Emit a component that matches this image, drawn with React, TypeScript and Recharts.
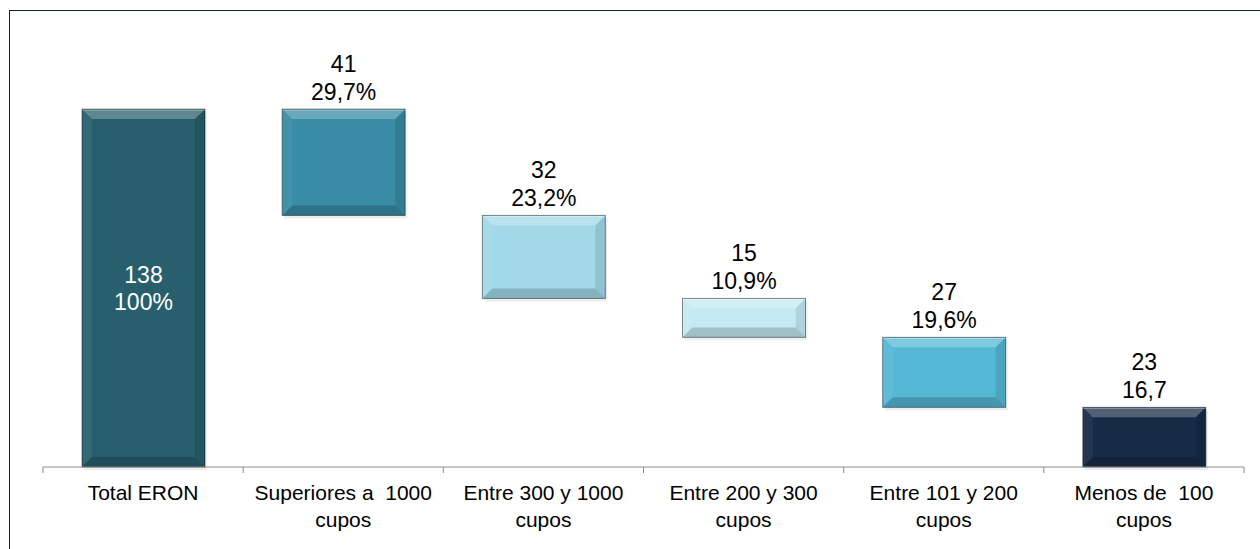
import { BarChart, Bar, XAxis, YAxis, Cell, LabelList } from 'recharts'

const categories = [
  'Total ERON',
  'Superiores a  1000\ncupos',
  'Entre 300 y 1000\ncupos',
  'Entre 200 y 300\ncupos',
  'Entre 101 y 200\ncupos',
  'Menos de  100\ncupos',
]
const values = [138, 41, 32, 15, 27, 23]
const shareLabels = ['100%', '29,7%', '23,2%', '10,9%', '19,6%', '16,7']
const colors = ['#285F6D', '#398CA5', '#A2D9E9', '#C4EAF3', '#55B8D5', '#172B47']
const boundaryTicks = [0, 1, 2, 3, 4, 5, 6]

// waterfall: each step hangs from what is left of the total
const data = categories.map((name, i) => {
  const used = values.slice(1, i + 1).reduce((a, b) => a + b, 0)
  return {
    name,
    idx: i + 0.5,
    base: i === 0 ? 0 : values[0] - used,
    value: values[i],
    share: shareLabels[i],
  }
})

const FONT = 'Liberation Sans, Arial, sans-serif'

function BevelBar(props: any) {
  const { x, y, width, height, fill } = props
  if (!height || height <= 0) return null
  const b = Math.min(10, height / 4, width / 4)
  const x2 = x + width
  const y2 = y + height
  return (
    <g>
      <rect x={x + 2} y={y + 3} width={width} height={height} fill="#000" opacity={0.07} />
      <rect x={x} y={y} width={width} height={height} fill={fill} />
      <polygon points={`${x},${y} ${x2},${y} ${x2 - b},${y + b} ${x + b},${y + b}`} fill="#fff" opacity={0.25} />
      <polygon points={`${x},${y} ${x + b},${y + b} ${x + b},${y2 - b} ${x},${y2}`} fill="#fff" opacity={0.06} />
      <polygon points={`${x2},${y} ${x2},${y2} ${x2 - b},${y2 - b} ${x2 - b},${y + b}`} fill="#000" opacity={0.1} />
      <polygon points={`${x},${y2} ${x + b},${y2 - b} ${x2 - b},${y2 - b} ${x2},${y2}`} fill="#000" opacity={0.18} />
      <line x1={x} y1={y + 1} x2={x2} y2={y + 1} stroke="#fff" strokeOpacity={0.35} />
      <rect x={x} y={y} width={width} height={height} fill="none" stroke="#000" strokeOpacity={0.45} strokeWidth={1} />
    </g>
  )
}

function ValueLabel(props: any) {
  const { x, y, width, height, index } = props
  const d = data[index]
  const cx = x + width / 2
  if (index === 0) {
    const cy = y + height / 2
    return (
      <text x={cx} textAnchor="middle" fill="#fff" fontSize={23} fontFamily={FONT}>
        <tspan x={cx} y={cy - 5}>{d.value}</tspan>
        <tspan x={cx} y={cy + 22}>{d.share}</tspan>
      </text>
    )
  }
  return (
    <text x={cx} textAnchor="middle" fill="#000" fontSize={23} fontFamily={FONT}>
      <tspan x={cx} y={y - 37}>{d.value}</tspan>
      <tspan x={cx} y={y - 9}>{d.share}</tspan>
    </text>
  )
}

function CategoryTick(props: any) {
  const { x, y, payload } = props
  const lines = String(payload.value).split('\n')
  return (
    <text x={x} textAnchor="middle" fill="#000" fontSize={21} fontFamily={FONT} style={{ whiteSpace: 'pre' }}>
      {lines.map((l, i) => (
        <tspan key={i} x={x} y={y + 32 + i * 27}>{l}</tspan>
      ))}
    </text>
  )
}

export default function App() {
  return (
    <div style={{ position: 'absolute', left: 0, top: 0, width: 1260, height: 549, overflow: 'hidden', background: '#fff' }}>
      <div
        style={{
          position: 'absolute',
          left: 9,
          top: 10,
          width: 1260,
          height: 549,
          borderTop: '1px solid #0F2538',
          borderLeft: '1px solid #0F2538',
        }}
      />
      <div style={{ position: 'absolute', left: 0, top: 0 }}>
        <BarChart width={1260} height={549} data={data} margin={{ top: 52, right: 16, bottom: 21, left: 43 }}>
          <XAxis
            xAxisId="a-axis"
            dataKey="idx"
            type="number"
            domain={[0, 6]}
            ticks={boundaryTicks}
            height={1}
            tickSize={6}
            axisLine={{ stroke: '#8C8C8C' }}
            tickLine={{ stroke: '#8C8C8C' }}
            tick={() => <g />}
            allowDataOverflow
          />
          <XAxis
            xAxisId="b-labels"
            dataKey="name"
            height={60}
            axisLine={false}
            tickLine={false}
            tickSize={0}
            tickMargin={0}
            interval={0}
            tick={<CategoryTick />}
          />
          <YAxis hide domain={[0, 160]} />
          <Bar xAxisId="b-labels" dataKey="base" stackId="w" fill="transparent" barSize={123} isAnimationActive={false} />
          <Bar xAxisId="b-labels" dataKey="value" stackId="w" barSize={123} shape={<BevelBar />} isAnimationActive={false}>
            {data.map((d, i) => (
              <Cell key={d.name} fill={colors[i]} />
            ))}
            <LabelList dataKey="value" content={<ValueLabel />} />
          </Bar>
        </BarChart>
      </div>
    </div>
  )
}
